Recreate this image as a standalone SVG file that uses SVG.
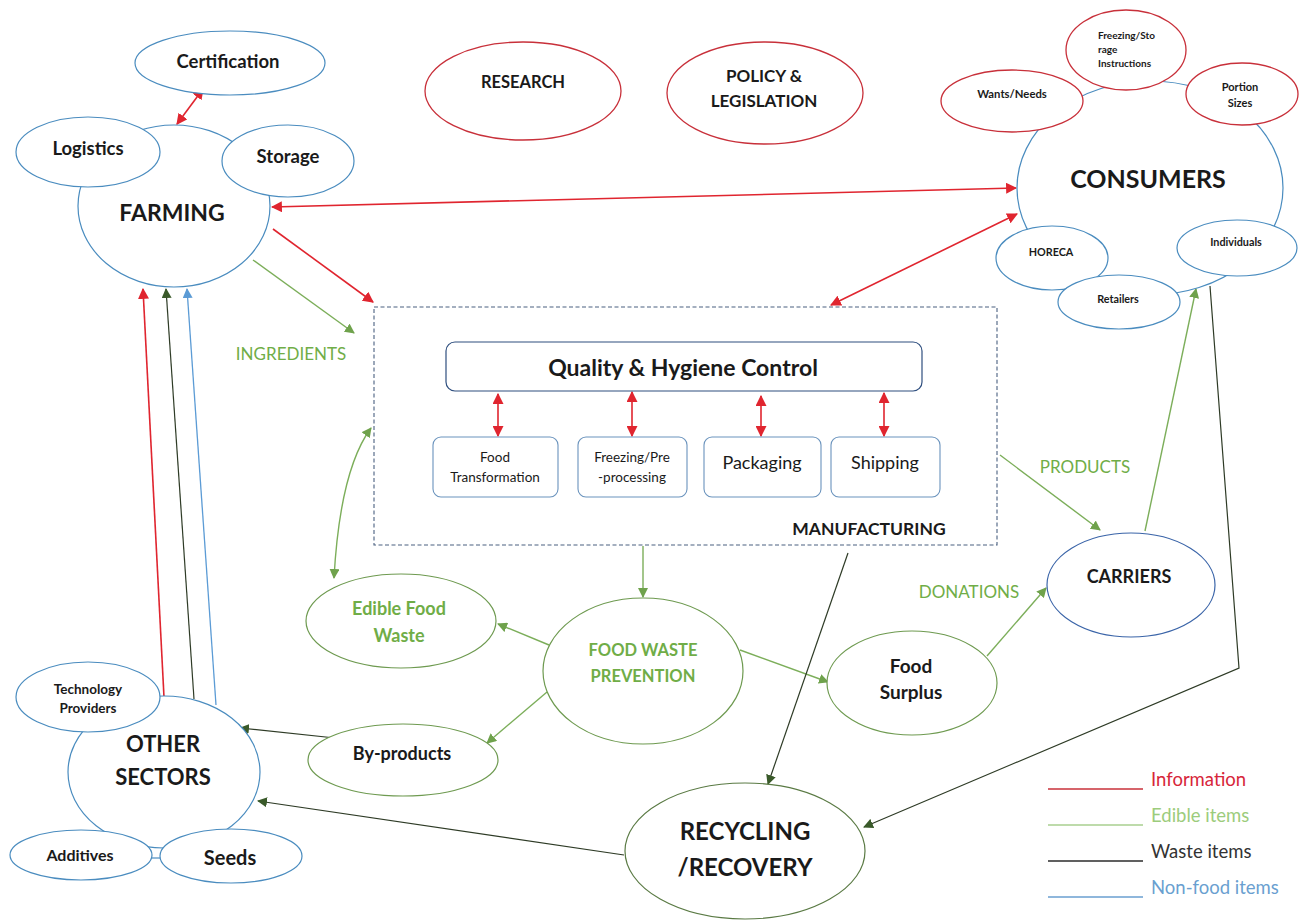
<svg xmlns="http://www.w3.org/2000/svg" width="1302" height="923" viewBox="0 0 1302 923">
  <style>
    text { font-family: Lato, "Open Sans", "Liberation Sans", sans-serif; fill: #1a1a1a; text-anchor: middle; }
    .b { font-weight: bold; }
    .g { fill: #70ad47; }
    .l { text-anchor: start; }
    .nb { fill: #fff; stroke: #4a8cbf; stroke-width: 1.2; }
    .nr { fill: #fff; stroke: #c8303a; stroke-width: 1.3; }
    .ng { fill: #fff; stroke: #6e9a50; stroke-width: 1.2; }
    .box { fill: #fff; stroke: #6a93bd; stroke-width: 1.1; }
    .info { stroke: #e0252f; stroke-width: 1.6; fill: none; }
    .edible { stroke: #7cae5a; stroke-width: 1.4; fill: none; }
    .waste { stroke: #2e3b26; stroke-width: 1.2; fill: none; }
    .nonfood { stroke: #5b9bd5; stroke-width: 1.3; fill: none; }
  </style>
  <defs>
    <marker id="ar" viewBox="0 0 10 10" refX="9" refY="5" markerWidth="11" markerHeight="11" markerUnits="userSpaceOnUse" orient="auto-start-reverse">
      <path d="M0,0 L10,5 L0,10 z" fill="#e0252f"/>
    </marker>
    <marker id="ag" viewBox="0 0 10 10" refX="9" refY="5" markerWidth="10" markerHeight="10" markerUnits="userSpaceOnUse" orient="auto-start-reverse">
      <path d="M0,0 L10,5 L0,10 z" fill="#6fa24c"/>
    </marker>
    <marker id="ad" viewBox="0 0 10 10" refX="9" refY="5" markerWidth="10" markerHeight="10" markerUnits="userSpaceOnUse" orient="auto-start-reverse">
      <path d="M0,0 L10,5 L0,10 z" fill="#3a5a2a"/>
    </marker>
    <marker id="ab" viewBox="0 0 10 10" refX="9" refY="5" markerWidth="10" markerHeight="10" markerUnits="userSpaceOnUse" orient="auto-start-reverse">
      <path d="M0,0 L10,5 L0,10 z" fill="#5b9bd5"/>
    </marker>
  </defs>

  <rect width="1302" height="923" fill="#ffffff"/>

  <!-- connectors -->
  <g id="connectors">
    <line class="info" x1="203" y1="89" x2="177" y2="124" marker-start="url(#ar)" marker-end="url(#ar)"/>
    <line class="info" x1="272" y1="207" x2="1016" y2="188" marker-start="url(#ar)" marker-end="url(#ar)"/>
    <line class="info" x1="273" y1="229" x2="373" y2="302" marker-end="url(#ar)"/>
    <line class="info" x1="831" y1="305" x2="1017" y2="214" marker-start="url(#ar)" marker-end="url(#ar)"/>
    <line class="info" x1="498" y1="394" x2="498" y2="436" marker-start="url(#ar)" marker-end="url(#ar)"/>
    <line class="info" x1="632" y1="392" x2="632" y2="436" marker-start="url(#ar)" marker-end="url(#ar)"/>
    <line class="info" x1="761" y1="396" x2="761" y2="436" marker-start="url(#ar)" marker-end="url(#ar)"/>
    <line class="info" x1="884" y1="393" x2="884" y2="436" marker-start="url(#ar)" marker-end="url(#ar)"/>
    <line class="info" x1="164" y1="697" x2="143" y2="289" marker-end="url(#ar)"/>

    <line class="edible" x1="253" y1="260" x2="354" y2="333" marker-end="url(#ag)"/>
    <path class="edible" d="M371,428 Q340,470 334,578" marker-start="url(#ag)" marker-end="url(#ag)"/>
    <line class="edible" x1="643" y1="546" x2="643" y2="597" marker-end="url(#ag)"/>
    <line class="edible" x1="549" y1="645" x2="498" y2="624" marker-end="url(#ag)"/>
    <line class="edible" x1="547" y1="692" x2="487" y2="743" marker-end="url(#ag)"/>
    <line class="edible" x1="740" y1="650" x2="828" y2="682" marker-end="url(#ag)"/>
    <line class="edible" x1="987" y1="656" x2="1046" y2="588" marker-end="url(#ag)"/>
    <line class="edible" x1="1000" y1="455" x2="1100" y2="530" marker-end="url(#ag)"/>
    <line class="edible" x1="1145" y1="531" x2="1196" y2="289" marker-end="url(#ag)"/>

    <line class="waste" x1="194" y1="699" x2="166" y2="289" marker-end="url(#ad)"/>
    <polyline class="waste" points="1210,286 1239,668 864,827" marker-end="url(#ad)"/>
    <line class="waste" x1="848" y1="553" x2="768" y2="784" marker-end="url(#ad)"/>
    <line class="waste" x1="335" y1="738" x2="240" y2="728" marker-end="url(#ad)"/>
    <line class="waste" x1="624" y1="855" x2="258" y2="801" marker-end="url(#ad)"/>

    <line class="nonfood" x1="216" y1="705" x2="187" y2="289" marker-end="url(#ab)"/>
  </g>

  <!-- flow labels -->
  <g id="flow-labels" font-size="17">
    <text class="g" x="291" y="360">INGREDIENTS</text>
    <text class="g" x="1085" y="473">PRODUCTS</text>
    <text class="g" x="969" y="598">DONATIONS</text>
  </g>

  <!-- farming cluster -->
  <g id="farming">
    <ellipse class="nb" cx="174" cy="206" rx="96" ry="81"/>
    <text class="b" x="172" y="221" font-size="23">FARMING</text>
  </g>
  <g id="certification">
    <ellipse class="nb" cx="230" cy="63" rx="95" ry="32"/>
    <text class="b" x="228" y="68" font-size="18.5">Certification</text>
  </g>
  <g id="logistics">
    <ellipse class="nb" cx="88" cy="152" rx="72" ry="35"/>
    <text class="b" x="88" y="155" font-size="18.5">Logistics</text>
  </g>
  <g id="storage">
    <ellipse class="nb" cx="288" cy="161" rx="66" ry="36"/>
    <text class="b" x="288" y="163" font-size="18.5">Storage</text>
  </g>

  <!-- research / policy -->
  <g id="research">
    <ellipse class="nr" cx="523" cy="91" rx="98" ry="49"/>
    <text class="b" x="523" y="88" font-size="16.5">RESEARCH</text>
  </g>
  <g id="policy">
    <ellipse class="nr" cx="765" cy="93" rx="98" ry="51"/>
    <text class="b" x="764" y="82" font-size="17">POLICY &amp;</text>
    <text class="b" x="764" y="107" font-size="17">LEGISLATION</text>
  </g>

  <!-- consumers cluster -->
  <g id="consumers">
    <ellipse class="nb" cx="1150" cy="188" rx="133" ry="107"/>
    <text class="b" x="1148" y="188" font-size="25">CONSUMERS</text>
  </g>
  <g id="wants-needs">
    <ellipse class="nr" cx="1012" cy="101" rx="71" ry="31"/>
    <text class="b" x="1012" y="98" font-size="11.3">Wants/Needs</text>
  </g>
  <g id="freezing-storage">
    <ellipse class="nr" cx="1126" cy="50" rx="60" ry="40"/>
    <text class="b l" x="1098" y="39" font-size="10">Freezing/Sto</text>
    <text class="b l" x="1098" y="53" font-size="10">rage</text>
    <text class="b l" x="1098" y="67" font-size="10">Instructions</text>
  </g>
  <g id="portion-sizes">
    <ellipse class="nr" cx="1242" cy="94" rx="56" ry="31"/>
    <text class="b" x="1240" y="91" font-size="11">Portion</text>
    <text class="b" x="1240" y="107" font-size="11">Sizes</text>
  </g>
  <g id="horeca">
    <ellipse class="nb" cx="1052" cy="258" rx="56" ry="32"/>
    <text class="b" x="1051" y="256" font-size="10.8">HORECA</text>
  </g>
  <g id="individuals">
    <ellipse class="nb" cx="1237" cy="248" rx="60" ry="28"/>
    <text class="b" x="1236" y="246" font-size="10.8">Individuals</text>
  </g>
  <g id="retailers">
    <ellipse class="nb" cx="1119" cy="302" rx="61" ry="27"/>
    <text class="b" x="1118" y="303" font-size="10.8">Retailers</text>
  </g>

  <!-- manufacturing -->
  <g id="manufacturing">
    <rect x="374" y="307" width="623" height="238" fill="none" stroke="#4a6080" stroke-width="1.1" stroke-dasharray="4,2.5"/>
    <text class="b" x="869" y="535" font-size="17.5">MANUFACTURING</text>
  </g>
  <g id="quality-control">
    <rect x="446" y="342" width="476" height="49" rx="9" fill="#fff" stroke="#2f4f7f" stroke-width="1.2"/>
    <text class="b" x="683" y="376" font-size="23">Quality &amp; Hygiene Control</text>
  </g>
  <g id="food-transformation">
    <rect class="box" x="433" y="437" width="125" height="60" rx="8"/>
    <text x="495" y="462" font-size="13.5">Food</text>
    <text x="495" y="482" font-size="13.5">Transformation</text>
  </g>
  <g id="freezing-preprocessing">
    <rect class="box" x="578" y="437" width="109" height="60" rx="8"/>
    <text x="632" y="462" font-size="13.5">Freezing/Pre</text>
    <text x="632" y="482" font-size="13.5">-processing</text>
  </g>
  <g id="packaging">
    <rect class="box" x="704" y="437" width="117" height="60" rx="8"/>
    <text x="762" y="469" font-size="18">Packaging</text>
  </g>
  <g id="shipping">
    <rect class="box" x="831" y="437" width="109" height="60" rx="8"/>
    <text x="885" y="469" font-size="18">Shipping</text>
  </g>

  <!-- waste handling -->
  <g id="edible-food-waste">
    <ellipse class="ng" cx="401" cy="621" rx="95" ry="47"/>
    <text class="b g" x="399" y="615" font-size="18">Edible Food</text>
    <text class="b g" x="399" y="642" font-size="18">Waste</text>
  </g>
  <g id="food-waste-prevention">
    <ellipse class="ng" cx="643" cy="671" rx="100" ry="73"/>
    <text class="b g" x="643" y="656" font-size="16.5">FOOD WASTE</text>
    <text class="b g" x="643" y="682" font-size="16.5">PREVENTION</text>
  </g>
  <g id="food-surplus">
    <ellipse class="ng" cx="912" cy="683" rx="85" ry="52"/>
    <text class="b" x="911" y="673" font-size="19">Food</text>
    <text class="b" x="911" y="699" font-size="19">Surplus</text>
  </g>
  <g id="by-products">
    <ellipse class="ng" cx="403" cy="760" rx="95" ry="36"/>
    <text class="b" x="402" y="760" font-size="18">By-products</text>
  </g>
  <g id="carriers">
    <ellipse cx="1131" cy="585" rx="84" ry="52" fill="#fff" stroke="#3a64a8" stroke-width="1.2"/>
    <text class="b" x="1129" y="583" font-size="18">CARRIERS</text>
  </g>
  <g id="recycling">
    <ellipse cx="745" cy="851" rx="120" ry="68" fill="#fff" stroke="#5a7a44" stroke-width="1.2"/>
    <text class="b" x="745" y="840" font-size="24">RECYCLING</text>
    <text class="b" x="745" y="876" font-size="24">/RECOVERY</text>
  </g>

  <!-- other sectors cluster -->
  <g id="other-sectors">
    <ellipse class="nb" cx="164" cy="772" rx="96" ry="76"/>
    <text class="b" x="163" y="752" font-size="22">OTHER</text>
    <text class="b" x="163" y="785" font-size="22">SECTORS</text>
  </g>
  <g id="technology-providers">
    <ellipse class="nb" cx="88" cy="697" rx="72" ry="35"/>
    <text class="b" x="88" y="694" font-size="13.5">Technology</text>
    <text class="b" x="88" y="713" font-size="13.5">Providers</text>
  </g>
  <g id="additives">
    <line x1="152" y1="858" x2="161" y2="858" stroke="#4a8cbf" stroke-width="1.2"/>
    <ellipse class="nb" cx="81" cy="855" rx="71" ry="25"/>
    <text class="b" x="80" y="861" font-size="16">Additives</text>
  </g>
  <g id="seeds">
    <ellipse class="nb" cx="231" cy="856" rx="71" ry="27"/>
    <text class="b" x="230" y="865" font-size="20">Seeds</text>
  </g>

  <!-- legend -->
  <g id="legend" font-size="18.5">
    <line x1="1048" y1="789" x2="1143" y2="789" stroke="#c8303a" stroke-width="1.5"/>
    <text class="l" x="1151" y="786" style="fill:#d7263a">Information</text>
    <line x1="1048" y1="825" x2="1143" y2="825" stroke="#a9cf8f" stroke-width="1.5"/>
    <text class="l" x="1151" y="822" style="fill:#9ccc7c">Edible items</text>
    <line x1="1048" y1="861" x2="1143" y2="861" stroke="#2b2b2b" stroke-width="1.5"/>
    <text class="l" x="1151" y="858" style="fill:#333">Waste items</text>
    <line x1="1048" y1="897" x2="1143" y2="897" stroke="#6a9fd0" stroke-width="1.5"/>
    <text class="l" x="1151" y="894" style="fill:#6a9fd0">Non-food items</text>
  </g>
</svg>
